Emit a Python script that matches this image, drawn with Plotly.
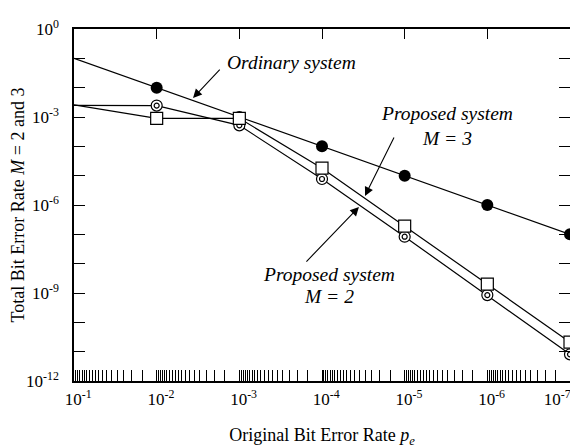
import plotly.graph_objects as go

pe = [1e-1, 1e-2, 1e-3, 1e-4, 1e-5, 1e-6, 1e-7]
ordinary = [1e-1, 1e-2, 1e-3, 1e-4, 1e-5, 1e-6, 1e-7]
proposed_m3 = [2.6e-3, 9.0e-4, 9.0e-4, 1.8e-5, 1.9e-7, 2.0e-9, 2.1e-11]
proposed_m2 = [2.5e-3, 2.45e-3, 5.2e-4, 7.7e-6, 8.3e-8, 8.5e-10, 8.1e-12]

NB = "\u00a0"
x_major = [10.0 ** -d for d in range(1, 8)]
x_ticktext = [NB * 2 + "10<sup>-%d</sup>" % d for d in range(1, 7)] + ["10<sup>-7</sup>" + NB * 6]
x_minor = [10.0 ** -d * (1 + 0.5 * j) for d in range(2, 8) for j in range(1, 18)]
y_major = [10.0 ** -d for d in range(0, 13)]
y_ticktext = [("10<sup>-%d</sup>" % d if d else "10<sup>0</sup>") if d % 3 == 0 else "" for d in range(0, 13)]

FONT = "Liberation Serif, Times New Roman, serif"
LW = 1.2

fig = go.Figure()
fig.add_trace(go.Scatter(x=pe, y=ordinary, mode="lines+markers", cliponaxis=False,
                         line=dict(color="black", width=LW),
                         marker=dict(symbol="circle", size=12, color="black"),
                         showlegend=False))
fig.add_trace(go.Scatter(x=pe, y=proposed_m2, mode="lines+markers", cliponaxis=False,
                         line=dict(color="black", width=LW),
                         marker=dict(symbol="circle", size=11, color="white",
                                     line=dict(color="black", width=LW)),
                         showlegend=False))
fig.add_trace(go.Scatter(x=pe, y=proposed_m2, mode="markers", cliponaxis=False,
                         marker=dict(symbol="circle", size=5, color="white",
                                     line=dict(color="black", width=LW)),
                         showlegend=False))
fig.add_trace(go.Scatter(x=pe, y=proposed_m3, mode="lines+markers", cliponaxis=False,
                         line=dict(color="black", width=LW),
                         marker=dict(symbol="square", size=12, color="white",
                                     line=dict(color="black", width=LW)),
                         showlegend=False))
# invisible helper trace for the top axis
fig.add_trace(go.Scatter(x=pe, y=ordinary, xaxis="x2", mode="lines", opacity=0,
                         hoverinfo="skip", showlegend=False))

fig.update_layout(
    width=578, height=446,
    margin=dict(l=66, r=16, t=21, b=73),
    paper_bgcolor="white", plot_bgcolor="white",
    font=dict(family=FONT, size=17, color="black"),
    xaxis=dict(type="log", range=[-1, -7.0000001], showgrid=False, zeroline=False,
               showline=True, linecolor="black", linewidth=1.5, automargin=False,
               ticks="inside", ticklen=11, tickwidth=1, tickcolor="black",
               tickmode="array", tickvals=x_major, ticktext=x_ticktext,
               tickfont=dict(family=FONT, size=17), ticklabelstandoff=2,
               ticklabeloverflow="allow",
               minor=dict(tickmode="array", tickvals=x_minor, ticks="inside",
                          ticklen=11, tickwidth=1, tickcolor="black", showgrid=False),
               title=dict(text="Original Bit Error Rate <i>p</i><sub><i>e</i></sub>",
                          font=dict(family=FONT, size=18), standoff=20)),
    xaxis2=dict(type="log", range=[-1, -7.0000001], overlaying="x", side="top",
                showgrid=False, zeroline=False, showline=True, linecolor="black",
                linewidth=1.5, ticks="inside", ticklen=10, tickwidth=1,
                tickcolor="black", tickmode="array", tickvals=x_major,
                showticklabels=False, automargin=False),
    yaxis=dict(type="log", range=[-12, 0], showgrid=False, zeroline=False,
               showline=True, linecolor="black", linewidth=1.5, mirror="ticks",
               ticks="inside", ticklen=11, tickwidth=1, tickcolor="black",
               tickmode="array", tickvals=y_major, ticktext=y_ticktext,
               tickfont=dict(family=FONT, size=17), ticklabelstandoff=10,
               ticklabeloverflow="allow", automargin=False,
               title=dict(text="Total Bit Error Rate <i>M</i> = 2 and 3",
                          font=dict(family=FONT, size=18), standoff=0)),
)

def arrow(tip, tail):
    fig.add_annotation(x=tip[0], y=tip[1], ax=tail[0], ay=tail[1],
                       xref="x", yref="y", axref="x", ayref="y", text="",
                       showarrow=True, arrowhead=2, arrowsize=1.6,
                       arrowwidth=1.1, arrowcolor="black")

def label(pos, text):
    fig.add_annotation(x=pos[0], y=pos[1], xref="x", yref="y", text=text,
                       showarrow=False, font=dict(family=FONT, size=19.5, color="black"))

arrow((-2.44, -2.35), (-2.78, -1.33))
label((-3.625, -1.125), "<i>Ordinary system</i>")
arrow((-4.52, -5.69), (-4.88, -3.65))
label((-5.506, -2.87), "<i>Proposed system</i>")
label((-5.506, -3.72), "<i>M = 3</i>")
arrow((-4.447, -6.07), (-3.794, -7.98))
label((-4.085, -8.38), "<i>Proposed system</i>")
label((-4.085, -9.13), "<i>M = 2</i>")

fig.write_html("out.html")
